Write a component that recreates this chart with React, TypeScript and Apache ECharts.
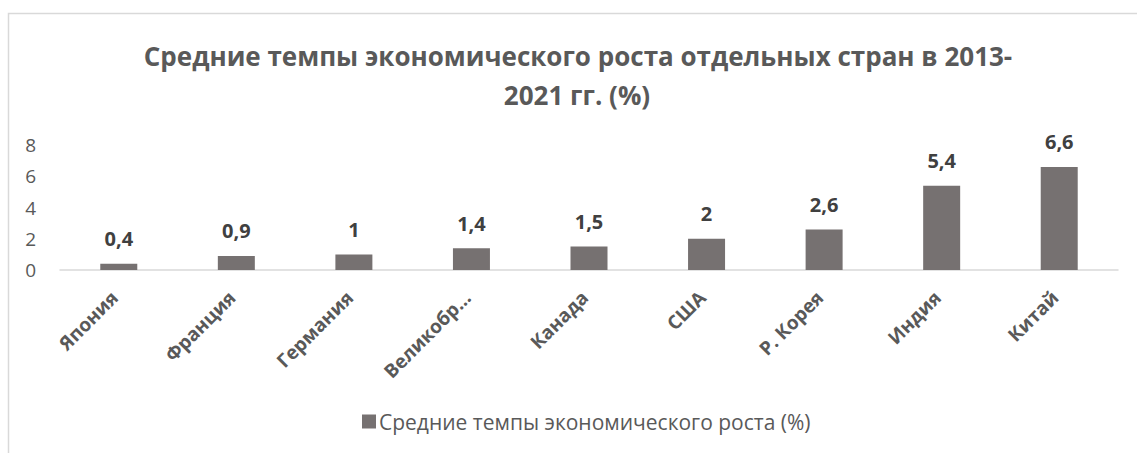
import React, { useEffect, useRef } from "react";
import * as echarts from "echarts";

const categories = ["Япония", "Франция", "Германия", "Великобр…", "Канада", "США", "Р. Корея", "Индия", "Китай"];
const values = [0.4, 0.9, 1, 1.4, 1.5, 2, 2.6, 5.4, 6.6];
const seriesName = "Средние темпы экономического роста (%)";
const titleLines = ["Средние темпы экономического роста отдельных стран в 2013-", "2021 гг. (%)"];
const yMin = 0;
const yMax = 8;
const yInterval = 2;

export default function App() {
  const ref = useRef<HTMLDivElement>(null);
  useEffect(() => {
    if (!ref.current) return;
    const chart = echarts.init(ref.current, null, { renderer: "svg" });
    const font = "'Open Sans', 'Noto Sans', sans-serif";
    chart.setOption({
      animation: false,
      backgroundColor: "#ffffff",
      textStyle: { fontFamily: font },
      graphic: [
        {
          type: "rect",
          shape: { x: 8.5, y: 13.5, width: 1200, height: 600 },
          style: { fill: "none", stroke: "#d9d9d9", lineWidth: 1.5 },
          silent: true,
        },
        {
          type: "text",
          x: 578,
          y: 56,
          style: {
            text: titleLines[0],
            textAlign: "center",
            textVerticalAlign: "middle",
            fill: "#595959",
            font: `bold 26px ${font}`,
          },
        },
        {
          type: "text",
          x: 577,
          y: 95,
          style: {
            text: titleLines[1],
            textAlign: "center",
            textVerticalAlign: "middle",
            fill: "#595959",
            font: `bold 26px ${font}`,
          },
        },
      ],
      grid: { left: 60, right: 19, top: 145, bottom: 183 },
      legend: {
        left: 357,
        top: 406,
        itemWidth: 14,
        itemHeight: 14,
        itemGap: 6,
        icon: "rect",
        textStyle: { color: "#595959", fontSize: 21, fontFamily: font, padding: [0, 0, 0, -2] },
        data: [seriesName],
      },
      xAxis: {
        type: "category",
        data: categories,
        axisLine: { lineStyle: { color: "#d9d9d9", width: 1.5 } },
        axisTick: { show: false },
        axisLabel: {
          rotate: 45,
          color: "#595959",
          fontWeight: "bold",
          fontSize: 19,
          fontFamily: font,
          margin: 20,
          padding: [0, 6, 0, 0],
          interval: 0,
        },
      },
      yAxis: {
        type: "value",
        min: yMin,
        max: yMax,
        interval: yInterval,
        axisLine: { show: false },
        axisTick: { show: false },
        splitLine: { show: false },
        axisLabel: { color: "#595959", fontSize: 19, fontFamily: font, margin: 24 },
      },
      series: [
        {
          name: seriesName,
          type: "bar",
          data: values,
          barWidth: 37,
          itemStyle: { color: "#767171" },
          label: {
            show: true,
            position: "top",
            distance: 15,
            color: "#404040",
            fontWeight: "bold",
            fontSize: 20,
            fontFamily: font,
            formatter: (p: any) => String(p.value).replace(".", ","),
          },
        },
      ],
    });
    return () => chart.dispose();
  }, []);
  return <div ref={ref} style={{ position: "absolute", left: 0, top: 0, width: 1137, height: 453 }} />;
}
